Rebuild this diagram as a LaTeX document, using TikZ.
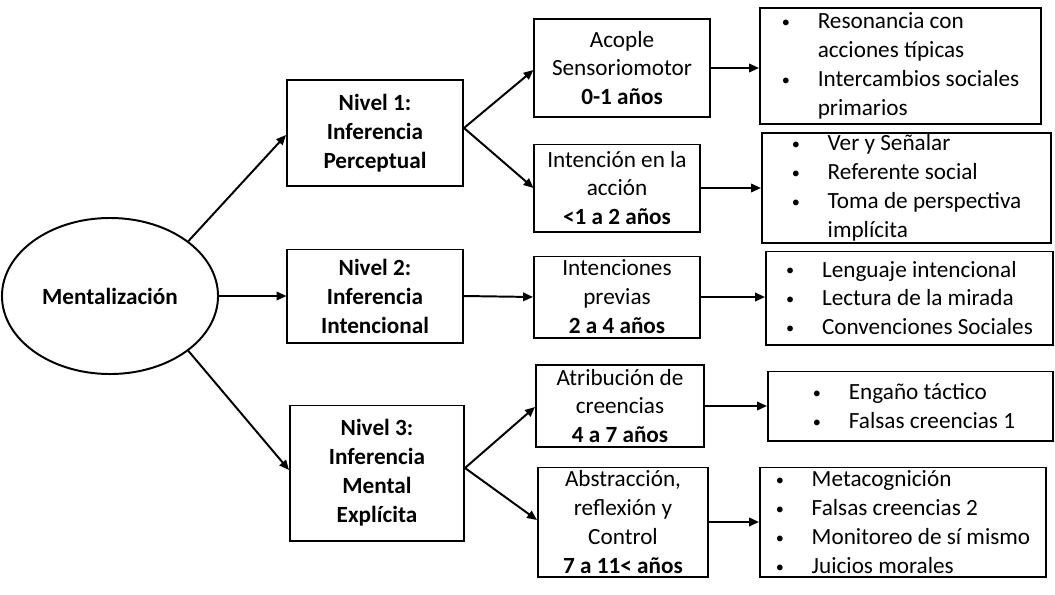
\documentclass[tikz,border=0pt]{standalone}
\usepackage{fontspec}
\setmainfont{Carlito}
\usetikzlibrary{arrows.meta,shapes.geometric}
\newcommand{\blt}{\raisebox{0.1ex}{\scalebox{0.7}{\textbullet}}}
\newcommand{\itm}[1]{\blt\hspace{1.2em}#1}
\newcommand{\cnt}[1]{\phantom{\blt}\hspace{1.2em}#1}
\tikzset{
  box/.style={draw,line width=1.4pt,align=center,inner sep=1pt,font=\fontsize{16.5}{20.6}\selectfont},
  lst/.style={draw,line width=1.4pt,align=left,anchor=west,inner sep=1pt,font=\fontsize{16.5}{20.6}\selectfont},
  arr/.style={line width=1.4pt,-{Triangle[length=7pt,width=6pt]}}
}
\begin{document}
\begin{tikzpicture}[x=0.025cm,y=-0.025cm]
\useasboundingbox (0,0) rectangle (1055,594);
\node[box,ellipse,minimum width=5.4cm,minimum height=3.9cm] (ment) at (110,296) {};
\node[font=\fontsize{16.5}{20.6}\selectfont\bfseries] at (ment) {Mentalización};
% niveles
\node[box,font=\fontsize{16.5}{20.6}\selectfont\bfseries,minimum width=4.4cm,minimum height=2.65cm] (n1) at (375,133) {Nivel 1:\\Inferencia\\Perceptual};
\node[box,font=\fontsize{16.5}{20.6}\selectfont\bfseries,minimum width=4.375cm,minimum height=2.325cm] (n2) at (375,296) {Nivel 2:\\Inferencia\\Intencional};
\node[box,font=\fontsize{16.5}{20.6}\selectfont\bfseries,minimum width=4.35cm,minimum height=3.375cm] (n3) at (377,473) {Nivel 3:\\Inferencia\\Mental\\Explícita};
% etapas
\node[box,minimum width=4.375cm,minimum height=2.45cm] (e1) at (622,68) {Acople\\Sensoriomotor\\\textbf{0-1 años}};
\node[box,minimum width=4.125cm,minimum height=2.175cm] (e2) at (617,188) {Intención en la\\acción\\\textbf{<1 a 2 años}};
\node[box,minimum width=4.15cm,minimum height=2.025cm] (e3) at (617,297) {Intenciones\\previas\\\textbf{2 a 4 años}};
\node[box,minimum width=4.2cm,minimum height=2.05cm] (e4) at (620,406) {Atribución de\\creencias\\\textbf{4 a 7 años}};
\node[box,minimum width=4.25cm,minimum height=2.725cm] (e5) at (623,522) {Abstracción,\\reflexión y\\Control\\\textbf{7 a 11< años}};
% listas
\node[lst,minimum width=7.025cm,minimum height=2.9cm] (l1) at (759,66) {\itm{Resonancia con}\\\cnt{acciones típicas}\\\itm{Intercambios sociales}\\\cnt{primarios}};
\node[lst,minimum width=7.225cm,minimum height=2.725cm] (l2) at (761,188) {\itm{Ver y Señalar}\\\itm{Referente social}\\\itm{Toma de perspectiva}\\\cnt{implícita}};
\node[lst,minimum width=7.175cm,minimum height=2.325cm] (l3) at (765,298) {\itm{Lenguaje intencional}\\\itm{Lectura de la mirada}\\\itm{Convenciones Sociales}};
\node[lst,minimum width=7.125cm,minimum height=1.725cm] (l4) at (767,406) {\hspace{0.3em}\itm{Engaño táctico}\\\hspace{0.3em}\itm{Falsas creencias 1}};
\node[lst,minimum width=7.15cm,minimum height=2.725cm] (l5) at (759,522) {\itm{Metacognición}\\\itm{Falsas creencias 2}\\\itm{Monitoreo de sí mismo}\\\itm{Juicios morales}};
% conectores
\draw[arr] (ment.35) -- (n1.west |- 0,135);
\draw[arr] (ment.east) -- (n2.west);
\draw[arr] (ment.-35) -- (n3.west |- 0,470);
\draw[arr] (n1.east |- 0,128) -- (e1.west |- 0,70);
\draw[arr] (n1.east |- 0,128) -- (e2.west |- 0,188);
\draw[arr] (n2.east) -- (e3.west);
\draw[arr] (n3.east |- 0,468) -- (e4.west |- 0,407);
\draw[arr] (n3.east |- 0,468) -- (e5.west |- 0,520);
\draw[arr] (e1.east) -- (l1.west |- e1.east);
\draw[arr] (e2.east) -- (l2.west |- e2.east);
\draw[arr] (e3.east) -- (l3.west |- e3.east);
\draw[arr] (e4.east) -- (l4.west |- e4.east);
\draw[arr] (e5.east) -- (l5.west |- e5.east);
\end{tikzpicture}
\end{document}
